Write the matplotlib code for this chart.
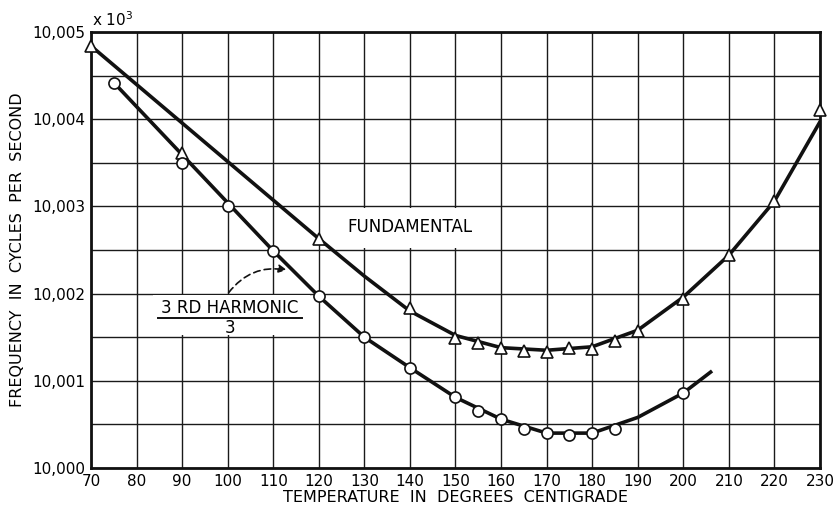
import matplotlib.pyplot as plt
from matplotlib.patches import Rectangle
import numpy as np

# temperature (deg C) and frequency offset above 10,000 kc/s
fund_t = [70, 90, 120, 140, 150, 155, 160, 165, 170, 175, 180, 185, 190, 200, 210, 220, 230]
fund_f = [4.84, 3.61, 2.63, 1.83, 1.49, 1.43, 1.38, 1.34, 1.33, 1.38, 1.36, 1.46, 1.57, 1.94, 2.44, 3.06, 4.11]

harm_t = [75, 90, 100, 110, 120, 130, 140, 150, 155, 160, 165, 170, 175, 180, 185, 200]
harm_f = [4.42, 3.50, 3.00, 2.49, 1.97, 1.50, 1.15, 0.81, 0.65, 0.56, 0.45, 0.40, 0.38, 0.40, 0.45, 0.86]

# faired curves drawn through the observations
fund_curve_t = [70, 120, 130, 140, 150, 160, 170, 180, 190, 200, 210, 220, 230]
fund_curve_f = [4.84, 2.63, 2.20, 1.80, 1.52, 1.38, 1.35, 1.39, 1.58, 1.96, 2.44, 3.06, 3.97]

harm_curve_t = [75, 110, 120, 130, 140, 150, 160, 170, 180, 190, 200, 206]
harm_curve_f = [4.42, 2.49, 1.97, 1.50, 1.15, 0.81, 0.56, 0.40, 0.40, 0.58, 0.86, 1.10]

x_ticks = list(range(70, 231, 10))
y_ticks = [0, 1, 2, 3, 4, 5]
y_labels = ["10,000", "10,001", "10,002", "10,003", "10,004", "10,005"]

ink = "#111111"

fig = plt.figure(figsize=(8.35, 5.05), dpi=100)
ax = fig.add_axes([0.109, 0.0733, 0.873, 0.8633])

ax.set_xlim(70, 230)
ax.set_ylim(0, 5)
ax.set_xticks(x_ticks)
ax.set_yticks(y_ticks)
ax.set_yticks(np.arange(0, 5.01, 0.5), minor=True)
ax.set_xticklabels([str(t) for t in x_ticks], fontsize=11)
ax.set_yticklabels(y_labels, fontsize=11)
ax.tick_params(which="both", length=0, pad=4)
ax.grid(True, which="both", color="#1a1a1a", linewidth=1.0)
for s in ax.spines.values():
    s.set_linewidth(2)
    s.set_color(ink)

ax.plot(fund_curve_t, fund_curve_f, color=ink, linewidth=2.6, zorder=3)
ax.plot(harm_curve_t, harm_curve_f, color=ink, linewidth=2.6, zorder=3)
ax.plot(fund_t, fund_f, linestyle="none", marker="^", markersize=9,
        markerfacecolor="white", markeredgecolor=ink, markeredgewidth=1.2,
        zorder=4, clip_on=False)
ax.plot(harm_t, harm_f, linestyle="none", marker="o", markersize=8,
        markerfacecolor="white", markeredgecolor=ink, markeredgewidth=1.2,
        zorder=4, clip_on=False)

# white panels that blank the grid behind the labels
ax.add_patch(Rectangle((121.5, 2.52), 37.5, 0.46, facecolor="white", edgecolor="none", zorder=2))
ax.add_patch(Rectangle((83.5, 1.52), 34.5, 0.46, facecolor="white", edgecolor="none", zorder=2))

ax.text(140, 2.76, "FUNDAMENTAL", fontsize=12, ha="center", va="center", zorder=5)
ax.text(100.5, 1.83, "3 RD HARMONIC", fontsize=12, ha="center", va="center", zorder=6)
ax.plot([84.7, 116.3], [1.72, 1.72], color=ink, linewidth=1.4, zorder=6)
ax.text(100.5, 1.61, "3", fontsize=12, ha="center", va="center", zorder=6)

ax.annotate("", xy=(113.0, 2.27), xytext=(100.2, 2.01), zorder=6,
            arrowprops=dict(arrowstyle="-|>", linestyle=(0, (4, 2.5)), color=ink,
                            linewidth=1.2, mutation_scale=12,
                            connectionstyle="arc3,rad=-0.3", shrinkA=0, shrinkB=0))

ax.text(0.002, 1.008, r"x 10$^3$", transform=ax.transAxes, fontsize=11, ha="left", va="bottom")
ax.set_xlabel("TEMPERATURE  IN  DEGREES  CENTIGRADE", fontsize=11.5, labelpad=1)
ax.set_ylabel("FREQUENCY  IN  CYCLES  PER  SECOND", fontsize=11.5, labelpad=5)

fig.savefig("out.png", dpi=100)
